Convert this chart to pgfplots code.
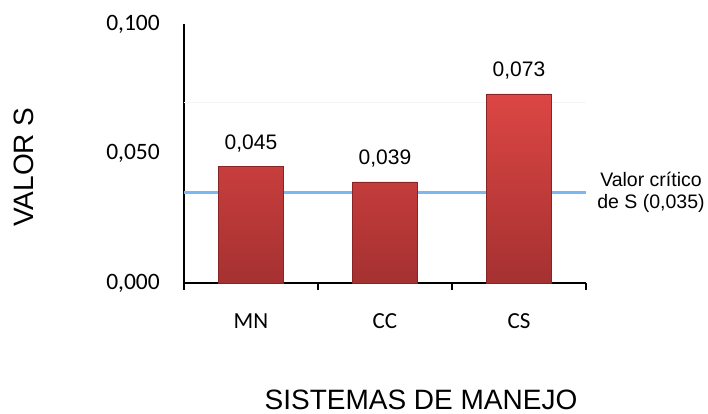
\documentclass[border=0pt]{standalone}
\usepackage{pgfplots}
\pgfplotsset{compat=1.18}
\usepackage{fontspec}
\setmainfont{Liberation Sans}
\newfontfamily\calibri{Carlito}

\definecolor{barTop}{HTML}{DC4644}
\definecolor{barBot}{HTML}{A53131}
\definecolor{barEdge}{HTML}{8A2424}
\definecolor{critLine}{HTML}{7DB7F2}

\begin{document}
\begin{tikzpicture}
\useasboundingbox (0,0) rectangle (708bp,414bp);
\begin{axis}[
	at={(184bp,131bp)}, anchor=south west,
	scale only axis, width=402bp, height=259bp,
	xmin=-0.5, xmax=2.5, ymin=0, ymax=0.1,
	axis x line=bottom, axis y line=left,
	axis line style={-, line width=1.4bp, black},
	xtick={-0.5,0.5,1.5,2.5}, xticklabels={},
	major tick length=7bp,
	x tick style={line width=1.2bp, black},
	tick align=outside,
	extra x ticks={0,1,2},
	extra x tick labels={MN,CC,CS},
	extra x tick style={tick style={draw=none}},
	xticklabel style={font=\calibri\fontsize{23bp}{26bp}\selectfont, yshift=-20bp},
	ytick={0,0.05,0.1},
	y tick style={draw=none},
	yticklabel style={font=\calibri\fontsize{23.5bp}{26bp}\selectfont, inner sep=0pt, xshift=-17bp},
	/pgf/number format/.cd, fixed, fixed zerofill, precision=3, use comma, assume math mode=true,
	/pgfplots/.cd,
	clip=false,
]
% faint gridline
\addplot[draw=black!4, line width=1bp] coordinates {(-0.5,0.0698) (2.5,0.0698)};
% critical value line
\addplot[draw=critLine, line width=2.5bp] coordinates {(-0.5,0.035) (2.5,0.035)};
% bars
\addplot[ybar, bar width=0.485, top color=barTop, bottom color=barBot, draw=barEdge, line width=0.6bp,
	nodes near coords,
	every node near coord/.append style={font=\fontsize{21bp}{24bp}\selectfont, text=black, yshift=11bp},
	point meta=y]
	coordinates {(0,0.045) (1,0.039) (2,0.073)};
\end{axis}
\node[rotate=90, font=\fontsize{28bp}{32bp}\selectfont] at (24bp,247bp) {VALOR S};
\node[font=\fontsize{28bp}{32bp}\selectfont, inner sep=0pt] at (421bp,14bp) {SISTEMAS DE MANEJO};
\node[align=center, font=\fontsize{19.5bp}{22bp}\selectfont, inner sep=0pt] at (651bp,222bp) {Valor crítico\\de S (0,035)};
\end{tikzpicture}
\end{document}
